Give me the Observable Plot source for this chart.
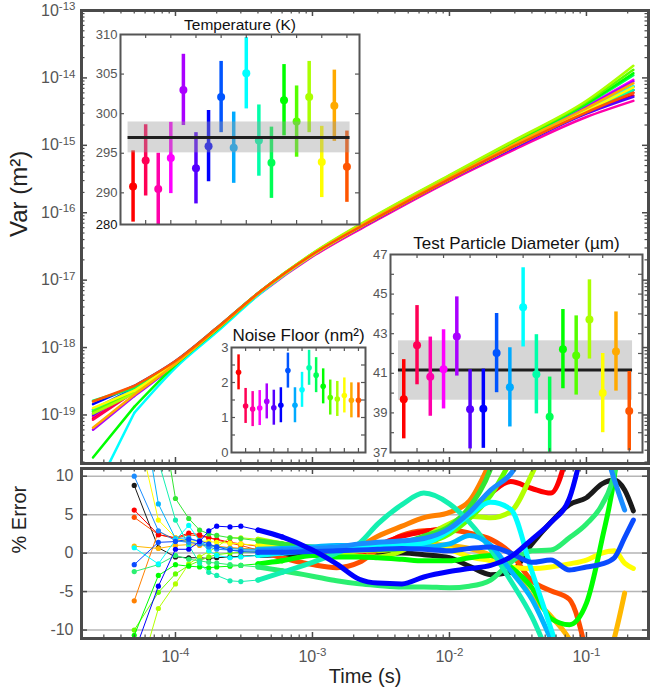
<!DOCTYPE html>
<html><head><meta charset="utf-8">
<script src="https://cdn.jsdelivr.net/npm/d3@7"></script>
<script src="https://cdn.jsdelivr.net/npm/@observablehq/plot@0.6"></script>
<style>
body{margin:0;background:#fff;}
#chart{position:relative;width:651px;height:689px;overflow:hidden;background:#fff;}
#chart svg{position:absolute;}
</style></head><body><div id="chart"></div>
<script>
// ---------------- DATA ----------------
const seriesColors = ["#ff0000","#ff0055","#ff00aa","#ff00ff","#aa00ff","#5500ff","#0000ff","#0055ff","#00aaff","#00ffff","#00ffaa","#00ff55","#00ff00","#55ff00","#aaff00","#ffff00","#ffaa00","#ff5500"];

// Top panel: variance (log10 of m^2) vs time
const varTimes = [2.5e-5, 5e-5, 1e-4, 2e-4, 4.2e-4, 1e-3, 3e-3, 1e-2, 3e-2, 0.1, 0.22];
const varLog10 = [
  [-19.05,-18.60,-18.21,-17.72,-17.17,-16.64,-16.08,-15.51,-15.02,-14.52,-14.26],
  [-19.07,-18.66,-18.23,-17.73,-17.18,-16.63,-16.07,-15.50,-15.01,-14.50,-14.22],
  [-19.02,-18.62,-18.22,-17.73,-17.19,-16.65,-16.10,-15.53,-15.06,-14.58,-14.34],
  [-18.98,-18.64,-18.22,-17.72,-17.17,-16.62,-16.05,-15.47,-14.97,-14.42,-14.03],
  [-19.22,-18.72,-18.25,-17.73,-17.18,-16.63,-16.06,-15.48,-14.98,-14.43,-14.05],
  [-19.00,-18.62,-18.21,-17.72,-17.17,-16.63,-16.08,-15.51,-15.03,-14.53,-14.28],
  [-18.84,-18.57,-18.20,-17.71,-17.16,-16.62,-16.06,-15.49,-15.00,-14.49,-14.18],
  [-18.92,-18.60,-18.21,-17.72,-17.17,-16.62,-16.06,-15.49,-14.99,-14.47,-14.13],
  [-18.95,-18.62,-18.22,-17.72,-17.17,-16.62,-16.06,-15.49,-14.99,-14.47,-14.13],
  [-20.20,-18.97,-18.30,-17.77,-17.19,-16.63,-16.06,-15.48,-14.98,-14.46,-14.12],
  [-18.93,-18.63,-18.22,-17.72,-17.17,-16.63,-16.07,-15.50,-15.01,-14.49,-14.18],
  [-18.79,-18.60,-18.21,-17.71,-17.16,-16.61,-16.04,-15.46,-14.95,-14.39,-13.96],
  [-19.63,-18.88,-18.26,-17.74,-17.17,-16.61,-16.04,-15.46,-14.94,-14.38,-13.93],
  [-18.95,-18.66,-18.23,-17.72,-17.16,-16.61,-16.03,-15.45,-14.93,-14.36,-13.88],
  [-18.98,-18.68,-18.24,-17.72,-17.16,-16.60,-16.02,-15.44,-14.92,-14.34,-13.82],
  [-18.90,-18.64,-18.22,-17.72,-17.17,-16.63,-16.07,-15.50,-15.01,-14.49,-14.14],
  [-19.19,-18.70,-18.24,-17.73,-17.17,-16.62,-16.05,-15.48,-14.98,-14.45,-14.08],
  [-18.80,-18.57,-18.20,-17.71,-17.16,-16.62,-16.07,-15.50,-15.01,-14.51,-14.22]
];

// Bottom panel: % error vs time
const errTimes = [5e-5,7.5e-5,1e-4,1.25e-4,1.5e-4,1.75e-4,2e-4,2.5e-4,3e-4,4e-4,6e-4,1e-3,1.5e-3,2.2e-3,3e-3,4.5e-3,6.5e-3,1e-2,1.4e-2,2e-2,2.8e-2,4e-2,5.5e-2,7.5e-2,0.1,0.13,0.16,0.19,0.22];
const errColors = ["#1a1a1a","#ffb800","#ff8000","#ff4d00","#ff0000","#ffff00","#b3ff00","#66ff00","#33e633","#00ff00","#2bef70","#14f0b0","#00b4ff","#00ffff","#1a8cff","#0a4bff","#0000ff"];
const errValues = [
  [8.8,0.7,-0.5,-0.6,-0.6,-0.7,-0.6,-0.5,-0.4,-0.3,-0.2,-0.1,-0.1,-0.2,-0.1,0.0,-0.2,-0.6,-1.7,-2.8,-2.5,1.2,4.0,6.3,7.2,9.0,9.5,8.2,5.5],
  [0.9,0.6,1.0,1.1,1.0,0.9,0.8,0.7,0.6,0.5,0.4,0.2,0.2,0.2,0.3,0.7,1.2,1.0,0.6,-0.3,-1.8,-5.7,-8.2,-11.2,-16,-16,-11,-5.2,null],
  [-6.2,2.8,1.8,1.4,1.2,1.0,0.9,0.7,0.6,0.5,0.4,0.3,0.4,0.9,2.2,3.5,4.6,5.3,6.8,12,null,null,null,null,null,null,null,null,null],
  [4.65,2.4,1.9,2.4,2.2,2.0,1.7,1.3,1.0,0.4,-0.6,-1.5,-1.9,-1.2,0.5,2.3,2.9,3.0,2.6,1.8,0.0,-3.6,-4.9,-6.0,-13,null,null,null,null],
  [5.6,2.4,2.0,2.6,2.4,2.0,1.8,1.4,1.2,0.9,0.5,0.0,-0.3,0.0,1.0,2.2,2.8,3.5,5.5,7.8,9.3,8.4,7.8,14,null,null,null,null,null],
  [18,4.3,2.0,1.5,1.6,1.5,1.4,1.3,1.2,1.0,0.8,0.4,0.2,0.3,0.5,0.8,1.0,0.5,-0.5,-1.0,-1.8,-2.0,-1.8,-1.4,-0.9,0.0,0.3,-1.3,-2.0],
  [-18,-7.2,-4.0,-1.4,-0.5,0.2,0.8,2.0,2.0,1.8,1.2,0.6,0.1,-0.4,-0.5,0.3,2.0,3.8,4.8,4.6,5.4,10.3,16,null,null,null,null,null,null],
  [-10,-5.1,-2.7,-1.6,-1.0,-0.5,-0.2,0.0,0.1,0.2,0.3,0.5,0.6,0.5,0.4,0.6,1.2,2.5,4.5,7.5,12,null,null,null,null,null,null,null,null],
  [null,20.6,7.1,4.5,3.0,2.5,2.3,2.0,1.9,1.6,1.2,0.8,0.6,0.6,0.8,1.3,2.2,3.5,6.0,11,20,null,null,null,null,null,null,null,null],
  [-10.7,-2.9,-1.5,-1.7,-1.8,-1.9,-1.8,-1.7,-1.6,-1.4,-1.0,-0.3,-0.5,-0.5,-0.6,-0.8,-1.0,-1.0,-0.6,-0.3,-1.8,-4.5,-8.5,-9.3,-6.5,1.8,10.0,22,null],
  [-2.4,-1.5,-0.3,-0.8,-1.0,-1.2,-1.3,-1.5,-1.6,-1.8,-2.3,-3.0,-3.6,-4.0,-4.2,-4.4,-4.4,-4.5,-4.3,-3.5,-1.2,0.3,0.4,2.0,3.8,6.3,10.5,20,null],
  [null,12,4.3,1.0,-1.3,-2.5,-2.9,-3.6,-3.7,-3.5,-2.5,-1.2,0.0,1.3,3.8,6.3,7.8,6.4,4.0,0.5,-3.6,-8.3,-14,null,null,null,null,null,null],
  [25,6.4,1.9,2.0,1.4,1.0,0.8,0.6,0.5,0.5,0.6,0.8,1.0,1.0,1.2,1.0,0.8,1.2,2.3,1.0,-2.3,-6.0,-11.2,-17,null,null,null,null,null],
  [0.7,-1.4,1.7,3.6,1.6,0.3,-0.3,-0.6,-0.5,-0.3,0.0,0.4,0.8,1.0,1.0,1.1,1.3,2.9,5.0,6.6,5.7,-2.4,-9.8,-17,null,null,null,null,null],
  [10.0,2.9,1.6,1.4,1.2,0.8,0.5,0.4,0.3,0.3,0.4,0.6,0.8,1.2,1.4,1.6,1.9,3.2,5.3,8.2,10.3,15,null,null,null,15,9.5,5.6,null],
  [-1.5,1.4,1.5,1.8,1.6,1.2,0.8,0.4,0.2,0.1,0.1,0.2,0.3,0.4,0.5,0.6,0.5,0.3,0.6,0.8,0.0,-1.2,-0.9,-2.2,-1.8,-1.4,-0.6,2.0,4.3],
  [-13,-4.3,0.5,0.5,1.5,2.9,3.5,3.4,3.5,3.0,2.1,0.4,-1.4,-3.4,-3.9,-4.0,-3.1,-2.4,-2.0,-1.6,-0.5,1.8,4.0,7.1,16,null,null,null,null]
];

// Insets (one value per series, index 1..18)
const tempValues = [290.8,294.1,290.5,294.4,303.0,293.1,295.9,302.1,295.7,305.1,296.6,293.8,301.7,299.0,302.1,293.9,301.0,293.3];
const tempErr = [4.5,4.5,4.5,4.5,4.5,4.5,4.5,4.5,4.5,4.5,4.5,4.5,4.5,4.5,4.5,4.5,4.5,4.5];
const tempMean = 297.0, tempBand = [295.05, 298.95];
const tempTicks = [286, 290, 295, 300, 305, 310];
const tempTickLabels = ["280","290","295","300","305","310"];

const diamValues = [39.69,42.42,40.83,41.2,42.86,39.18,39.21,42.02,40.29,44.33,40.95,38.81,42.22,41.9,43.72,40.0,42.1,39.09];
const diamErr = [2,2,2,2,2,2,2,2,2,2,2,2,2,2,2,2,2,2];
const diamMean = 41.17, diamBand = [39.64, 42.64];
const diamTicks = [37,39,41,43,45,47];

const noiseValues = [2.29,1.33,1.24,1.27,1.46,1.28,1.35,2.34,1.35,1.79,2.42,2.21,1.89,1.57,1.53,1.63,1.49,1.49];
const noiseErr = [0.5,0.5,0.5,0.5,0.5,0.5,0.5,0.5,0.5,0.5,0.5,0.5,0.5,0.5,0.5,0.5,0.5,0.5];
const noiseTicks = [0,1,2,3];

const bandSpan = [0.6, 18.25];
const insetXTicks = [2,4,6,8,10,12,14,16,18];

const xMajor = [1e-4, 1e-3, 1e-2, 1e-1];
const xMajorLabels = ["10^-4","10^-3","10^-2","10^-1"];
const yVarMajor = [1e-19,1e-18,1e-17,1e-16,1e-15,1e-14,1e-13];
const yVarLabels = ["10^-19","10^-18","10^-17","10^-16","10^-15","10^-14","10^-13"];
const errTicks = [-10,-5,0,5,10];
const errTickLabels = ["-10","-5","0","5","10"];

// ---------------- RENDER ----------------
const FONT = "'Liberation Sans', Arial, Helvetica, sans-serif";
const AX = "#4a4a4a", TICKTXT = "#555555", LBL = "#222222";
const xDom = [Math.pow(10,-4.686), Math.pow(10,-0.547)];

function minorLog(lo, hi) {
  const out = [];
  for (let e = Math.floor(Math.log10(lo)); e <= Math.ceil(Math.log10(hi)); e++)
    for (let k = 2; k <= 9; k++) { const v = k * Math.pow(10, e); if (v > lo && v < hi) out.push(v); }
  return out;
}
function frameTicks(vals, axis, pw, ph, len, stroke, sw) {
  if (axis === "x") return [
    Plot.tickX(vals, {x: d => d, insetTop: ph - len, stroke, strokeWidth: sw}),
    Plot.tickX(vals, {x: d => d, insetBottom: ph - len, stroke, strokeWidth: sw})
  ];
  return [
    Plot.tickY(vals, {y: d => d, insetRight: pw - len, stroke, strokeWidth: sw}),
    Plot.tickY(vals, {y: d => d, insetLeft: pw - len, stroke, strokeWidth: sw})
  ];
}
function place(svg, left, top) {
  svg.style.left = left + "px"; svg.style.top = top + "px";
  document.getElementById("chart").appendChild(svg);
}
function supers(svg) {
  const ns = "http://www.w3.org/2000/svg";
  svg.querySelectorAll("text").forEach(t => {
    const m = /^10\^(-?\d+)$/.exec(t.textContent);
    if (m) {
      t.textContent = "";
      const a = document.createElementNS(ns, "tspan"); a.textContent = "10";
      const b = document.createElementNS(ns, "tspan"); b.textContent = m[1];
      b.setAttribute("dy", "-0.48em"); b.setAttribute("font-size", "0.72em");
      t.appendChild(a); t.appendChild(b);
    }
  });
}
const baseStyle = {fontFamily: FONT, background: "none", overflow: "visible"};

// ---- Top panel ----
const varRows = [];
varLog10.forEach((arr, s) => arr.forEach((v, i) => varRows.push({s, i, t: varTimes[i], v: Math.pow(10, v), c: seriesColors[s]})));
const yVarDom = [Math.pow(10,-19.72), 1e-13];
const xMin = minorLog(xDom[0], xDom[1]);
const yMin = minorLog(yVarDom[0], yVarDom[1]);
{
  const pw = 651 - 81 - 3, ph = 470 - 10 - 7;
  const lineMarks = [];
  varLog10.forEach((_, s) => {
    const rows = varRows.filter(r => r.s === s);
    lineMarks.push(Plot.line(rows.filter(r => r.i <= 1), {x: "t", y: "v", stroke: "c", strokeWidth: 2.5, strokeLinejoin: "round", clip: true}));
    lineMarks.push(Plot.line(rows.filter(r => r.i >= 1), {x: "t", y: "v", stroke: "c", strokeWidth: 2.5, strokeLinejoin: "round", curve: "monotone-x", clip: true}));
  });
  const svg = Plot.plot({
    width: 651, height: 470, marginLeft: 81, marginRight: 3, marginTop: 10, marginBottom: 7,
    x: {type: "log", domain: xDom, axis: null},
    y: {type: "log", domain: yVarDom, axis: null},
    color: {type: "identity"},
    style: baseStyle,
    marks: [
      ...lineMarks,
      ...frameTicks(xMajor, "x", pw, ph, 6, AX, 1.5),
      ...frameTicks(xMin, "x", pw, ph, 3.5, AX, 1.2),
      ...frameTicks(yVarMajor, "y", pw, ph, 6, AX, 1.5),
      ...frameTicks(yMin, "y", pw, ph, 3.5, AX, 1.2),
      Plot.frame({stroke: AX, strokeWidth: 3}),
      Plot.text(yVarMajor, {y: d => d, text: (d, i) => yVarLabels[i], frameAnchor: "left", textAnchor: "end", lineAnchor: "middle", dx: -6, fontSize: 16, fill: TICKTXT}),
      Plot.text(["Var (m²)"], {text: d => d, frameAnchor: "left", lineAnchor: "middle", rotate: -90, dx: -62, fontSize: 24, fill: LBL})
    ]
  });
  supers(svg); place(svg, 0, 0);
}

// ---- Bottom panel ----
{
  const pw = 651 - 81 - 3, ph = 226 - 5 - 51;
  const marks = [Plot.ruleY(errTicks, {y: d => d, stroke: "#b5b5b5", strokeWidth: 1.5})];
  errValues.forEach((series, s) => {
    const rows = series.map((v, i) => ({i, t: errTimes[i], v: v == null ? NaN : v, c: errColors[s]}));
    marks.push(Plot.line(rows.filter(r => r.i <= 9), {x: "t", y: "v", stroke: "c", strokeWidth: 1, clip: true}));
    marks.push(Plot.line(rows.filter(r => r.i >= 9), {x: "t", y: "v", stroke: "c", strokeWidth: 5, strokeLinejoin: "round", strokeLinecap: "round", curve: "monotone-x", clip: true}));
    marks.push(Plot.dot(rows.filter(r => r.i <= 10 && !isNaN(r.v)), {x: "t", y: "v", fill: "c", r: 2.6, clip: true}));
  });
  const svg = Plot.plot({
    width: 651, height: 226, marginLeft: 81, marginRight: 3, marginTop: 5, marginBottom: 51,
    x: {type: "log", domain: xDom, axis: null},
    y: {domain: [-11.1, 11], axis: null},
    color: {type: "identity"},
    style: baseStyle,
    marks: [
      ...marks,
      ...frameTicks(xMajor, "x", pw, ph, 6, AX, 1.5),
      ...frameTicks(xMin, "x", pw, ph, 3.5, AX, 1.2),
      ...frameTicks(errTicks, "y", pw, ph, 6, AX, 1.5),
      Plot.frame({stroke: AX, strokeWidth: 3}),
      Plot.text(errTicks, {y: d => d, text: (d, i) => errTickLabels[i], frameAnchor: "left", textAnchor: "end", lineAnchor: "middle", dx: -8, fontSize: 16, fill: TICKTXT}),
      Plot.text(xMajor, {x: d => d, text: (d, i) => xMajorLabels[i], frameAnchor: "bottom", lineAnchor: "middle", dy: 18, fontSize: 16, fill: TICKTXT}),
      Plot.text(["Time (s)"], {text: d => d, frameAnchor: "bottom", lineAnchor: "middle", dy: 38, fontSize: 20, fill: LBL}),
      Plot.text(["% Error"], {text: d => d, frameAnchor: "left", lineAnchor: "middle", rotate: -90, dx: -62, fontSize: 20, fill: LBL})
    ]
  });
  supers(svg); place(svg, 0, 463);
}

// ---- Insets ----
function inset(cfg) {
  const {width, height, mL, mR, mT, mB, yDomain, values, errs, yTickVals, yTickText, yTickFill, yMinor,
         title, titleSize, titleDy, r, barW, band, mean, bandOnTop} = cfg;
  const pw = width - mL - mR, ph = height - mT - mB;
  const rows = values.map((v, k) => ({i: k + 1, v, lo: v - errs[k], hi: v + errs[k], c: seriesColors[k]}));
  const pts = [
    Plot.ruleX(rows, {x: "i", y1: "lo", y2: "hi", stroke: "c", strokeWidth: barW, clip: true}),
    Plot.dot(rows, {x: "i", y: "v", fill: "c", r, clip: true})
  ];
  const bandMarks = band ? [
    Plot.rect([{x1: bandSpan[0], x2: bandSpan[1], y1: band[0], y2: band[1]}], {x1: "x1", x2: "x2", y1: "y1", y2: "y2",
      fill: bandOnTop ? "#9a9a9a" : "#d6d6d6", fillOpacity: bandOnTop ? 0.4 : 1})
  ] : [];
  const meanMark = mean != null ? [Plot.ruleY([mean], {y: d => d, x1: bandSpan[0], x2: bandSpan[1], stroke: "#1e1e1e", strokeWidth: 3})] : [];
  const layered = bandOnTop ? [...pts, ...bandMarks, ...meanMark] : [...bandMarks, ...meanMark, ...pts];
  return Plot.plot({
    width, height, marginLeft: mL, marginRight: mR, marginTop: mT, marginBottom: mB,
    x: {domain: [0, 19], axis: null},
    y: {domain: yDomain, axis: null},
    color: {type: "identity"},
    style: baseStyle,
    marks: [
      Plot.frame({fill: "white"}),
      ...layered,
      ...frameTicks(insetXTicks, "x", pw, ph, 4, "#555", 1.2),
      ...frameTicks(yMinor, "y", pw, ph, 4, "#555", 1.2),
      Plot.frame({stroke: "#555", strokeWidth: 2}),
      Plot.text(yTickVals, {y: d => d, text: (d, i) => yTickText[i], frameAnchor: "left", textAnchor: "end", lineAnchor: "middle", dx: -3, fontSize: 13, fill: yTickFill}),
      Plot.text([title], {text: d => d, frameAnchor: "top", lineAnchor: "middle", dy: titleDy, fontSize: titleSize, fill: "#111"})
    ]
  });
}

place(inset({width: 310, height: 224, mL: 60, mR: 11, mT: 24, mB: 10,
  yDomain: [286, 310], values: tempValues, errs: tempErr,
  yTickVals: tempTicks, yTickText: tempTickLabels, yTickFill: (d, i) => i === 0 ? "#111" : TICKTXT,
  yMinor: [290, 295, 300, 305],
  title: "Temperature (K)", titleSize: 15.5, titleDy: -9, r: 4, barW: 3.5,
  band: tempBand, mean: tempMean, bandOnTop: true}), 60, 10);

place(inset({width: 175, height: 140, mL: 31, mR: 10, mT: 27, mB: 8,
  yDomain: [0, 3], values: noiseValues, errs: noiseErr,
  yTickVals: noiseTicks, yTickText: ["0","1","2","3"], yTickFill: TICKTXT,
  yMinor: [0.5, 1, 1.5, 2, 2.5],
  title: "Noise Floor (nm²)", titleSize: 17, titleDy: -12, r: 2.8, barW: 2.5,
  band: null, mean: null, bandOnTop: false}), 200, 320);

place(inset({width: 300, height: 230, mL: 40, mR: 8, mT: 24, mB: 8,
  yDomain: [37, 47], values: diamValues, errs: diamErr,
  yTickVals: diamTicks, yTickText: ["37","39","41","43","45","47"], yTickFill: TICKTXT,
  yMinor: [38, 39, 40, 41, 42, 43, 44, 45, 46],
  title: "Test Particle Diameter (µm)", titleSize: 17, titleDy: -11, r: 4, barW: 3.5,
  band: diamBand, mean: diamMean, bandOnTop: false}), 350, 230);
</script></body></html>
